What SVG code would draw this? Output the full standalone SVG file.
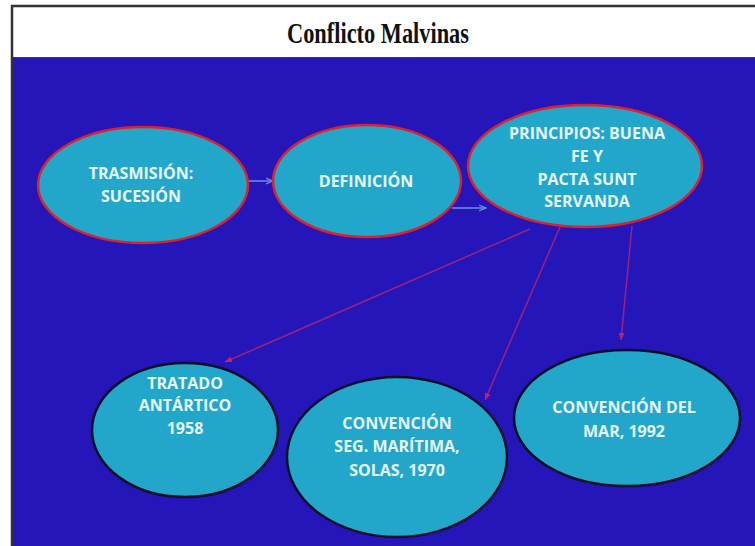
<svg xmlns="http://www.w3.org/2000/svg" width="755" height="546" viewBox="0 0 755 546">
<style>
.top{fill:#22A7CB;stroke:#E0202C;stroke-width:2.5}
.bot{fill:#22A7CB;stroke:#10102A;stroke-width:2.5}
.t{font-family:"Open Sans","Liberation Sans",sans-serif;font-weight:bold;font-size:16px;fill:#E6F7FC;text-anchor:middle}
.blue{stroke:#6E8FE6;stroke-width:1.5;fill:none}
.red{stroke:#A0207E;stroke-width:1.5;fill:none}
</style>
<defs>
<marker id="ab" markerWidth="8" markerHeight="8" refX="7" refY="4" orient="auto" markerUnits="userSpaceOnUse"><path d="M0,1 L7,4 L0,7" fill="none" stroke="#6E8FE6" stroke-width="1.3"/></marker>
<marker id="ar" markerWidth="8" markerHeight="8" refX="7" refY="4" orient="auto" markerUnits="userSpaceOnUse"><path d="M0,1 L7,4 L0,7 Z" fill="#C02070"/></marker>
</defs>
<rect width="755" height="546" fill="#FFFFFF"/>
<rect x="12" y="57" width="743" height="489" fill="#2516B9"/>
<line x1="12" y1="57.5" x2="755" y2="57.5" stroke="#5A1A9A" stroke-width="1"/>
<line x1="11" y1="6" x2="755" y2="6" stroke="#333333" stroke-width="2.5"/>
<line x1="12" y1="5" x2="12" y2="546" stroke="#333333" stroke-width="2.5"/>
<text x="378" y="43" font-family="Liberation Serif, serif" font-weight="bold" font-size="30" fill="#111111" text-anchor="middle" textLength="182" lengthAdjust="spacingAndGlyphs">Conflicto Malvinas</text>
<g id="connectors">
<line class="blue" x1="248" y1="181" x2="273" y2="181" marker-end="url(#ab)"/>
<line class="blue" x1="452" y1="208" x2="486" y2="208" marker-end="url(#ab)"/>
<line class="red" x1="530" y1="229" x2="225" y2="362" marker-end="url(#ar)"/>
<line class="red" x1="560" y1="227" x2="485" y2="400" marker-end="url(#ar)"/>
<line class="red" x1="632" y1="226" x2="621" y2="340" marker-end="url(#ar)"/>
</g>
<g id="n1"><ellipse class="top" cx="143" cy="185" rx="105" ry="58"/><text class="t" x="141" y="179">TRASMISIÓN:</text><text class="t" x="141" y="202">SUCESIÓN</text></g>
<g id="n2"><ellipse class="top" cx="367" cy="181" rx="94" ry="56"/><text class="t" x="366" y="187">DEFINICIÓN</text></g>
<g id="n3"><ellipse class="top" cx="585" cy="166" rx="117" ry="61"/><text class="t" x="587" y="139">PRINCIPIOS: BUENA</text><text class="t" x="587" y="162">FE Y</text><text class="t" x="587" y="185">PACTA SUNT</text><text class="t" x="587" y="207">SERVANDA</text></g>
<g id="n4"><ellipse class="bot" cx="185" cy="430" rx="93" ry="67"/><text class="t" x="185" y="389">TRATADO</text><text class="t" x="185" y="411">ANTÁRTICO</text><text class="t" x="185" y="434">1958</text></g>
<g id="n5"><ellipse class="bot" cx="397" cy="457" rx="110" ry="80"/><text class="t" x="397" y="429">CONVENCIÓN</text><text class="t" x="397" y="452">SEG. MARÍTIMA,</text><text class="t" x="397" y="476">SOLAS, 1970</text></g>
<g id="n6"><ellipse class="bot" cx="627" cy="418" rx="113" ry="68"/><text class="t" x="624" y="413">CONVENCIÓN DEL</text><text class="t" x="624" y="437">MAR, 1992</text></g>
</svg>
